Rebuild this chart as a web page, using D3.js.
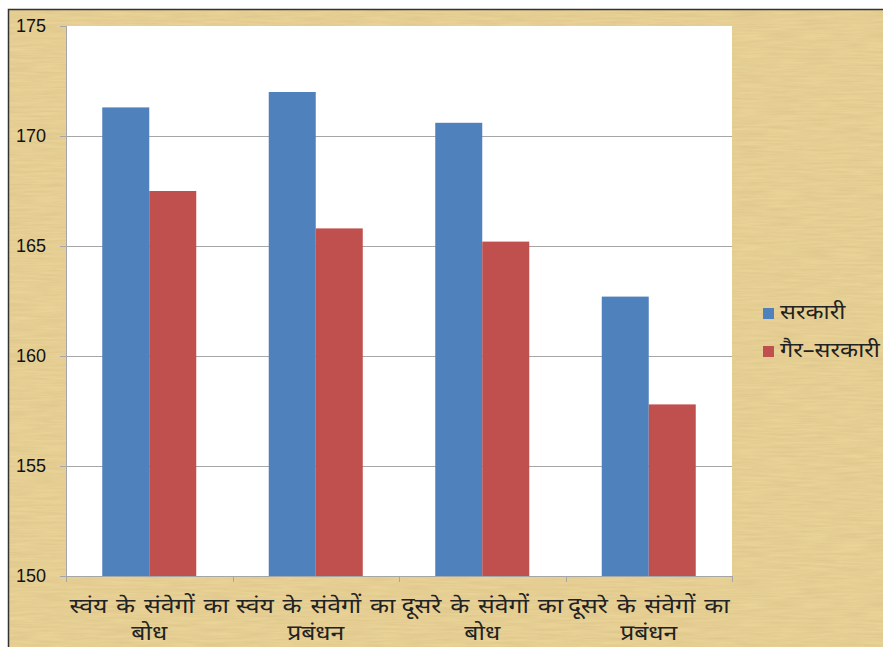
<!DOCTYPE html>
<html>
<head>
<meta charset="utf-8">
<script src="https://cdn.jsdelivr.net/npm/d3@7"></script>
<style>
  body { margin: 0; background: #fff; }
  .tick text { font-family: "Liberation Sans", Arial, sans-serif; }
  .hi { font-family: "Noto Sans", "Lohit Devanagari", "Mangal", sans-serif; fill: #222; }
</style>
</head>
<body>
<svg></svg>
<script>
var width = 883;
var height = 647;

// data
var categories = ["स्वंय के संवेगों का बोध", "स्वंय के संवेगों का प्रबंधन", "दूसरे के संवेगों का बोध", "दूसरे के संवेगों का प्रबंधन"];
var seriesNames = ["सरकारी", "गैर–सरकारी"];
var sarkari = [171.3, 172.0, 170.6, 162.7];
var gairSarkari = [167.5, 165.8, 165.2, 157.8];
var yTicks = [150, 155, 160, 165, 170, 175];
var colors = ["#4f81bd", "#c0504d"];

var rows = categories.map(function(c, i) {
  return { cat: c, values: [sarkari[i], gairSarkari[i]] };
});

var svg = d3.select("svg")
    .attr("width", width)
    .attr("height", height);

// parchment background
var defs = svg.append("defs");
var f = defs.append("filter").attr("id", "paper").attr("x", 0).attr("y", 0).attr("width", "100%").attr("height", "100%");
f.append("feTurbulence").attr("type", "fractalNoise").attr("baseFrequency", "0.03 0.45").attr("numOctaves", 3).attr("seed", 4).attr("result", "noise");
f.append("feColorMatrix").attr("in", "noise").attr("type", "matrix")
  .attr("values", "0 0 0 0 0.6  0 0 0 0 0.45  0 0 0 0 0.2  0 0 0 0.5 0").attr("result", "tint");
f.append("feComposite").attr("in", "tint").attr("in2", "SourceGraphic").attr("operator", "atop");

svg.append("rect")
    .attr("x", 9).attr("y", 10)
    .attr("width", width - 9).attr("height", height - 10)
    .attr("fill", "#edd699")
    .attr("filter", "url(#paper)");

svg.append("path")
    .attr("d", "M8.5," + height + "V9.5H" + width)
    .attr("fill", "none")
    .attr("stroke", "#333")
    .attr("stroke-width", 1.5);

// plot
var margin = { left: 66, top: 26, right: 151, bottom: 71 };
var pw = width - margin.left - margin.right;
var ph = height - margin.top - margin.bottom;

var g = svg.append("g").attr("transform", "translate(" + margin.left + "," + margin.top + ")");

g.append("rect").attr("width", pw).attr("height", ph).attr("fill", "#fff");

var x0 = d3.scaleBand().domain(categories).range([0, pw]).padding(0);
var gap = (x0.bandwidth() - 94) / 2;
var x1 = d3.scaleBand().domain([0, 1]).range([gap, x0.bandwidth() - gap]).padding(0);
var y = d3.scaleLinear().domain([150, 175]).range([ph, 0]);

// gridlines
g.selectAll(".grid")
  .data(yTicks.slice(1, -1))
  .enter().append("line")
    .attr("x1", 0).attr("x2", pw)
    .attr("y1", function(d) { return y(d) + 0.5; })
    .attr("y2", function(d) { return y(d) + 0.5; })
    .attr("stroke", "#a6a6a6");

// bars
var groups = g.selectAll(".grp")
  .data(rows)
  .enter().append("g")
    .attr("transform", function(d) { return "translate(" + x0(d.cat) + ",0)"; });

groups.selectAll("rect")
  .data(function(d) { return d.values; })
  .enter().append("rect")
    .attr("x", function(d, i) { return x1(i); })
    .attr("width", x1.bandwidth())
    .attr("y", function(d) { return y(d); })
    .attr("height", function(d) { return ph - y(d); })
    .attr("fill", function(d, i) { return colors[i]; });

// y axis
var yAxis = g.append("g")
    .call(d3.axisLeft(y).tickValues(yTicks).tickSize(6).tickPadding(14));
yAxis.selectAll("text").attr("font-size", 18).attr("fill", "#111");
yAxis.selectAll("line").attr("stroke", "#a6a6a6");
yAxis.select(".domain").attr("stroke", "#a6a6a6").attr("d", "M0.5,0V" + ph);

// x axis
var xAxis = g.append("g").attr("transform", "translate(0," + ph + ")");
xAxis.append("line").attr("x1", 0).attr("x2", pw).attr("y1", 0.5).attr("y2", 0.5).attr("stroke", "#a6a6a6");
xAxis.selectAll(".xt")
  .data(d3.range(categories.length + 1))
  .enter().append("line")
    .attr("x1", function(i) { return Math.round(i * x0.step()) + 0.5; })
    .attr("x2", function(i) { return Math.round(i * x0.step()) + 0.5; })
    .attr("y1", 0).attr("y2", 6)
    .attr("stroke", "#a6a6a6");

// hindi text is set wider, like the original's Mangal face
var lbl = xAxis.selectAll(".xl")
  .data(categories)
  .enter().append("text")
    .attr("class", "hi")
    .attr("text-anchor", "middle")
    .attr("font-size", 21)
    .attr("word-spacing", 2)
    .attr("transform", function(d) { return "translate(" + (x0(d) + x0.bandwidth() / 2) + ",0) scale(1.18,1)"; });

lbl.each(function(d) {
  var words = d.split(" ");
  var lines = [words.slice(0, -1).join(" "), words[words.length - 1]];
  d3.select(this).selectAll("tspan")
    .data(lines)
    .enter().append("tspan")
      .attr("x", 0)
      .attr("y", function(l, i) { return 37 + i * 27; })
      .text(function(l) { return l; });
});

// legend
var legend = svg.append("g").attr("transform", "translate(763,308)");
var li = legend.selectAll("g")
  .data(seriesNames)
  .enter().append("g")
    .attr("transform", function(d, i) { return "translate(0," + (i * 38) + ")"; });
li.append("rect").attr("width", 11).attr("height", 11).attr("fill", function(d, i) { return colors[i]; });
li.append("text")
    .attr("class", "hi")
    .attr("transform", "translate(17,11) scale(1.12,1)")
    .attr("font-size", 21)
    .text(function(d) { return d; });
</script>
</body>
</html>
